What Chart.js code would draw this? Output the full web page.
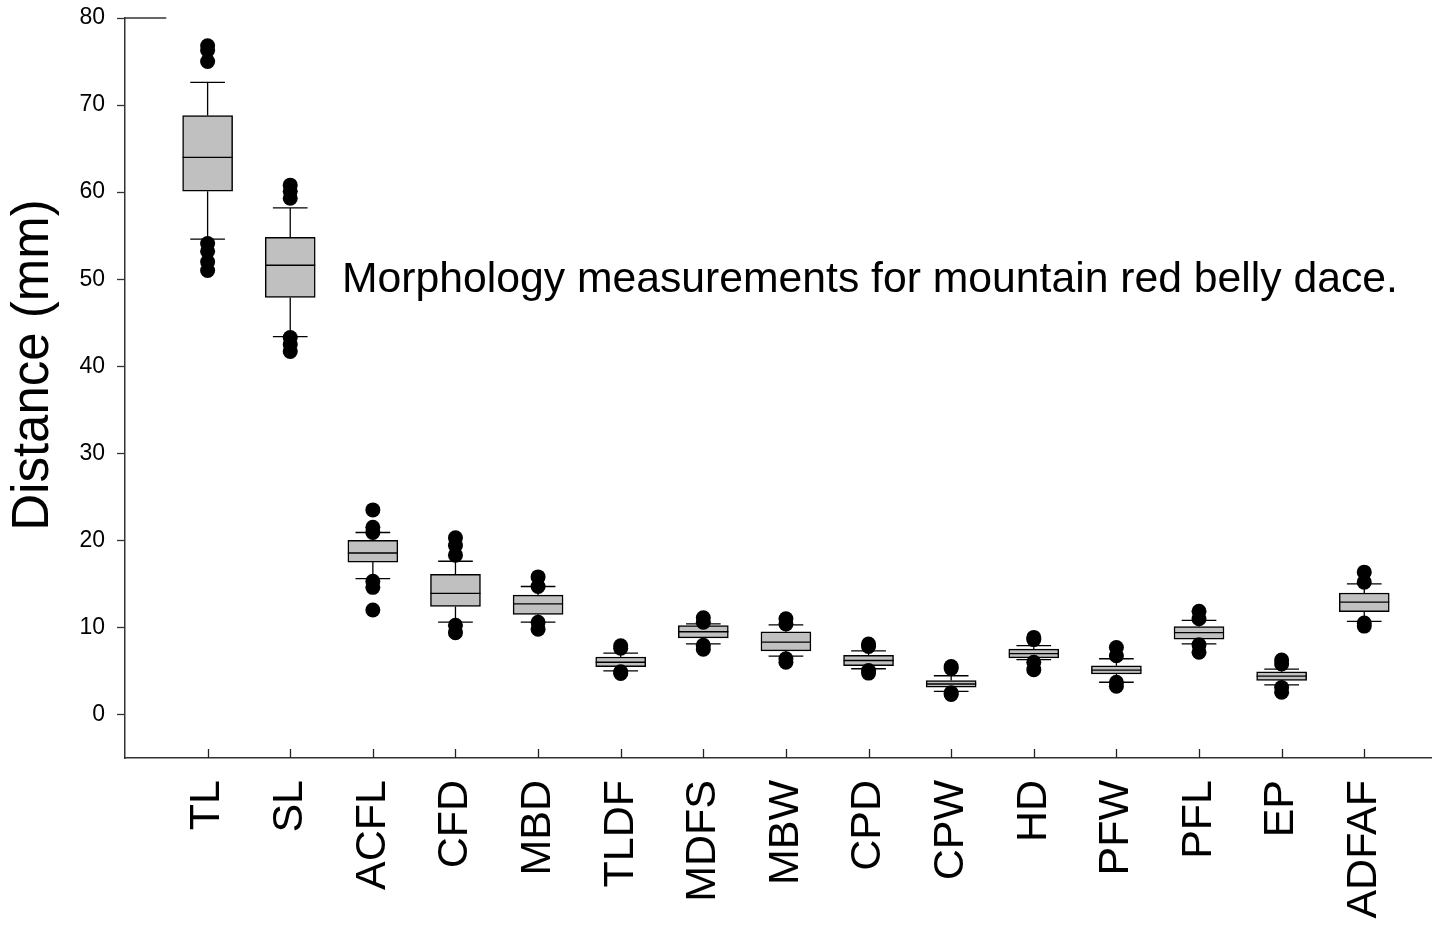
<!DOCTYPE html>
<html>
<head>
<meta charset="utf-8">
<script src="https://cdn.jsdelivr.net/npm/chart.js@4.4.1/dist/chart.umd.min.js"></script>
<style>
  html, body { margin: 0; padding: 0; background: #fff; }
  #wrap { width: 1432px; height: 931px; }
</style>
</head>
<body>
<div id="wrap"><canvas id="myChart" width="1432" height="931"></canvas></div>
<script>
const categories = ['TL', 'SL', 'ACFL', 'CFD', 'MBD', 'TLDF', 'MDFS', 'MBW', 'CPD', 'CPW', 'HD', 'PFW', 'PFL', 'EP', 'ADFAF'];

// box plot summary per measurement (mm)
const q1          = [60.1, 47.9, 17.5, 12.4, 11.5, 5.5, 8.8, 7.3, 5.6, 3.15, 6.5, 4.65, 8.65, 3.9, 11.8];
const median      = [64.0, 51.6, 18.55, 13.9, 12.7, 6.0, 9.5, 8.3, 6.2, 3.5, 7.0, 5.1, 9.4, 4.4, 12.9];
const q3          = [68.8, 54.8, 20.0, 16.1, 13.7, 6.6, 10.2, 9.5, 6.8, 3.9, 7.5, 5.6, 10.1, 4.9, 13.95];
const whiskerLow  = [54.6, 43.4, 15.6, 10.6, 10.6, 5.0, 8.1, 6.7, 5.25, 2.65, 6.3, 3.7, 8.1, 3.4, 10.7];
const whiskerHigh = [72.6, 58.2, 20.9, 17.6, 14.7, 7.05, 10.4, 10.3, 7.3, 4.45, 7.9, 6.4, 10.8, 5.2, 15.0];

const outliers = [
  [76.8, 76.3, 75.0, 54.1, 53.2, 52.0, 51.0],
  [60.8, 60.1, 59.3, 43.3, 42.5, 41.7],
  [23.5, 21.5, 20.9, 15.3, 14.6, 12.0],
  [20.3, 19.4, 18.3, 10.25, 9.4],
  [15.8, 14.7, 10.6, 9.8],
  [7.9, 7.6, 4.9, 4.7],
  [11.1, 10.6, 7.95, 7.5],
  [11.0, 10.4, 6.4, 6.0],
  [8.1, 7.8, 5.05, 4.75],
  [5.5, 5.3, 2.5, 2.3],
  [8.85, 8.6, 6.0, 5.15],
  [7.7, 6.75, 3.7, 3.25],
  [11.85, 11.0, 8.0, 7.15],
  [6.25, 5.8, 3.1, 2.55],
  [16.35, 15.2, 10.5, 10.15]
];

const yTicks = [0, 10, 20, 30, 40, 50, 60, 70, 80];

const FONT = "'Liberation Sans', Arial, sans-serif";
const capHalf = 0.21;

const boxData = categories.map((c, i) => ({ x: i + 1, y: [q1[i], q3[i]] }));
const outlierData = [];
outliers.forEach((list, i) => list.forEach(v => outlierData.push({ x: i + 1, y: v })));

const boxParts = {
  id: 'boxParts',
  beforeDatasetsDraw(chart) {
    const { ctx, scales: { x, y } } = chart;
    ctx.save();
    ctx.strokeStyle = '#000';
    ctx.lineWidth = 1.3;
    categories.forEach((c, i) => {
      const px = x.getPixelForValue(i + 1);
      const half = x.getPixelForValue(i + 1 + capHalf) - px;
      ctx.beginPath();
      ctx.moveTo(px, y.getPixelForValue(q3[i]));
      ctx.lineTo(px, y.getPixelForValue(whiskerHigh[i]));
      ctx.moveTo(px, y.getPixelForValue(q1[i]));
      ctx.lineTo(px, y.getPixelForValue(whiskerLow[i]));
      ctx.moveTo(px - half, y.getPixelForValue(whiskerHigh[i]));
      ctx.lineTo(px + half, y.getPixelForValue(whiskerHigh[i]));
      ctx.moveTo(px - half, y.getPixelForValue(whiskerLow[i]));
      ctx.lineTo(px + half, y.getPixelForValue(whiskerLow[i]));
      ctx.stroke();
    });
    ctx.restore();
  },
  afterDatasetDraw(chart, args) {
    if (args.index !== 0) return;
    const { ctx, scales: { y } } = chart;
    const meta = chart.getDatasetMeta(0);
    ctx.save();
    ctx.strokeStyle = '#000';
    ctx.lineWidth = 1.3;
    meta.data.forEach((bar, i) => {
      const py = y.getPixelForValue(median[i]);
      ctx.beginPath();
      ctx.moveTo(bar.x - bar.width / 2, py);
      ctx.lineTo(bar.x + bar.width / 2, py);
      ctx.stroke();
    });
    ctx.restore();
  },
  afterDraw(chart) {
    const { ctx, chartArea, scales: { x } } = chart;
    ctx.save();
    // short stub at the top of the y axis
    ctx.strokeStyle = '#333';
    ctx.lineWidth = 1.5;
    ctx.beginPath();
    ctx.moveTo(chartArea.left, chartArea.top);
    ctx.lineTo(x.getPixelForValue(0.5), chartArea.top);
    ctx.stroke();
    // category ticks point up into the plot
    ctx.strokeStyle = '#222';
    ctx.lineWidth = 1.3;
    categories.forEach((c, i) => {
      const px = Math.round(x.getPixelForValue(i + 1)) + 0.5;
      ctx.beginPath();
      ctx.moveTo(px, chartArea.bottom);
      ctx.lineTo(px, chartArea.bottom - 9);
      ctx.stroke();
    });
    // y axis title
    ctx.fillStyle = '#000';
    ctx.font = '51px ' + FONT;
    ctx.textAlign = 'center';
    ctx.textBaseline = 'middle';
    ctx.translate(34, 365);
    ctx.rotate(-Math.PI / 2);
    ctx.fillText('Distance (mm)', 0, 0);
    ctx.restore();

    ctx.save();
    ctx.fillStyle = '#000';
    ctx.font = '42.7px ' + FONT;
    ctx.textAlign = 'left';
    ctx.textBaseline = 'alphabetic';
    ctx.fillText('Morphology measurements for mountain red belly dace.', chartArea.left + 217, 292);
    ctx.restore();
  }
};

new Chart(document.getElementById('myChart'), {
  data: {
    datasets: [
      {
        type: 'bar',
        data: boxData,
        backgroundColor: '#c0c0c0',
        borderColor: '#000',
        borderWidth: 1.5,
        borderSkipped: false,
        barThickness: 50,
        order: 2
      },
      {
        type: 'scatter',
        data: outlierData,
        backgroundColor: '#000',
        borderColor: '#000',
        borderWidth: 0,
        pointRadius: 7.5,
        clip: false,
        order: 1
      }
    ]
  },
  options: {
    responsive: false,
    animation: false,
    layout: { autoPadding: false, padding: { top: 18, right: 0, left: 0, bottom: 0 } },
    plugins: { legend: { display: false }, tooltip: { enabled: false } },
    scales: {
      x: {
        type: 'linear',
        offset: false,
        min: 0,
        max: 15.82,
        afterBuildTicks: axis => { axis.ticks = categories.map((c, i) => ({ value: i + 1 })); },
        afterFit: axis => { axis.height = 173; axis.paddingRight = 0; axis.paddingLeft = 0; },
        grid: { display: false, drawTicks: false, offset: false },
        border: { color: '#333', width: 1.5 },
        ticks: {
          autoSkip: false,
          minRotation: 90,
          maxRotation: 90,
          padding: 22,
          color: '#000',
          font: { family: FONT, size: 43 },
          callback: v => categories[v - 1]
        }
      },
      y: {
        min: -5,
        max: 80,
        afterBuildTicks: axis => { axis.ticks = yTicks.map(v => ({ value: v })); },
        afterFit: axis => { axis.width = 125; axis.paddingTop = 0; axis.paddingBottom = 0; },
        grid: { drawOnChartArea: false, tickLength: 8, tickColor: '#333', tickWidth: 1.3 },
        border: { color: '#333', width: 1.5 },
        ticks: {
          padding: 12,
          color: '#000',
          font: { family: FONT, size: 23 }
        }
      }
    }
  },
  plugins: [boxParts]
});
</script>
</body>
</html>
